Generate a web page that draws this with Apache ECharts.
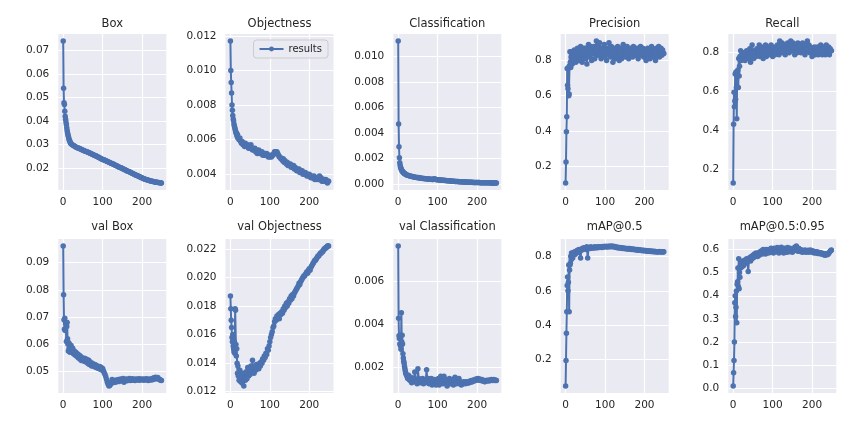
<!DOCTYPE html>
<html><head><meta charset="utf-8">
<script src="https://cdn.jsdelivr.net/npm/echarts@6/dist/echarts.min.js"></script>
<style>html,body{margin:0;padding:0;background:#fff}#c{width:856px;height:424px}</style>
</head><body><div id="c"></div>
<script>
// ---- data ----
const epochs = [0,1,2,3,4,5,6,7,8,9,10,11,12,13,14,15,16,17,18,19,
20,22,24,26,28,30,32,34,36,38,40,42,44,46,48,50,52,54,56,58,
60,62,64,66,68,70,72,74,76,78,80,82,84,86,88,90,92,94,96,98,
100,102,104,106,108,110,112,114,116,118,120,122,124,126,128,130,132,134,136,138,
140,142,144,146,148,150,152,154,156,158,160,162,164,166,168,170,172,174,176,178,
180,182,184,186,188,190,192,194,196,198,200,202,204,206,208,210,212,214,216,218,
220,222,224,226,228,230,232,234,236,238,240,242,244,246,248,249];

const titles = ['Box','Objectness','Classification','Precision','Recall',
  'val Box','val Objectness','val Classification','mAP@0.5','mAP@0.5:0.95'];

const boxLoss = [0.0740,0.0540,0.0478,0.0470,0.0442,0.0420,0.0408,0.0396,0.0385,0.0372,0.0360,0.0350,0.0342,0.0335,0.0328,0.0322,0.0317,0.0313,0.0309,0.0306,
0.0303,0.0300,0.0298,0.0296,0.0294, 0.0292,0.0290,0.0288,0.0287,0.0285,
0.0284,0.0282,0.0281,0.0279,0.0278, 0.0276,0.0275,0.0273,0.0272,0.0271,
0.0269,0.0268,0.0266,0.0265,0.0263, 0.0262,0.0260,0.0259,0.0257,0.0256,
0.0254,0.0252,0.0251,0.0249,0.0247, 0.0246,0.0244,0.0242,0.0240,0.0239,
0.0237,0.0236,0.0234,0.0233,0.0231, 0.0230,0.0228,0.0227,0.0225,0.0224,
0.0222,0.0220,0.0219,0.0217,0.0216, 0.0214,0.0212,0.0211,0.0209,0.0208,
0.0206,0.0204,0.0203,0.0201,0.0200, 0.0198,0.0196,0.0195,0.0193,0.0192,
0.0190,0.0188,0.0187,0.0185,0.0184, 0.0182,0.0180,0.0179,0.0177,0.0176,
0.0174,0.0172,0.0171,0.0169,0.0168, 0.0166,0.0164,0.0163,0.0161,0.0160,
0.0158,0.0157,0.0155,0.0154,0.0153, 0.0151,0.0150,0.0149,0.0148,0.0147,
0.0146,0.0145,0.0144,0.0144,0.0143, 0.0142,0.0141,0.0141,0.0140,0.0140,
0.0139,0.0139,0.0138,0.0138,0.0137, 0.0137];

const objLoss = [0.0117,0.0100,0.0093,0.0087,0.0080,0.0077,0.0074,0.0072,0.0071,0.0069,0.0068,0.0067,0.0066,0.0065,0.0064,0.0064,0.0063,0.0062,0.0063,0.0061,
0.0061,0.0060,0.0061,0.0059,0.0058, 0.0059,0.0057,0.0058,0.0056,0.0058,
0.0057,0.0056,0.0057,0.0055,0.0056, 0.0055,0.0057,0.0055,0.0054,0.0055,
0.0054,0.0055,0.0053,0.0054,0.0052, 0.0053,0.0054,0.0052,0.0053,0.0052,
0.0053,0.0051,0.0052,0.0051,0.0052, 0.0051,0.0052,0.0051,0.0050,0.0051,
0.0050,0.0051,0.0050,0.0051,0.0051, 0.0052,0.0053,0.0053,0.0052,0.0053,
0.0052,0.0051,0.0050,0.0050,0.0049, 0.0049,0.0048,0.0049,0.0047,0.0048,
0.0047,0.0046,0.0047,0.0045,0.0046, 0.0045,0.0046,0.0044,0.0045,0.0044,
0.0045,0.0043,0.0044,0.0043,0.0042, 0.0043,0.0042,0.0043,0.0041,0.0042,
0.0041,0.0042,0.0040,0.0041,0.0040, 0.0041,0.0040,0.0039,0.0040,0.0039,
0.0040,0.0039,0.0038,0.0039,0.0038, 0.0038,0.0039,0.0037,0.0038,0.0038,
0.0037,0.0038,0.0037,0.0039,0.0037, 0.0038,0.0036,0.0037,0.0036,0.0037,
0.0036,0.0037,0.0036,0.0035,0.0036, 0.0036];

const clsLoss = [0.01120,0.00470,0.00290,0.00205,0.00165,0.00145,0.00130,0.00120,0.00112,0.00105,0.00100,0.00096,0.00092,0.00088,0.00085,0.00082,0.00080,0.00078,0.00076,0.00074,
0.00072,0.00070,0.00068,0.00066,0.00064, 0.00062,0.00060,0.00058,0.00057,0.00055,
0.00054,0.00052,0.00051,0.00050,0.00049, 0.00048,0.00050,0.00046,0.00045,0.00044,
0.00043,0.00042,0.00042,0.00041,0.00040, 0.00039,0.00039,0.00038,0.00037,0.00037,
0.00036,0.00036,0.00035,0.00034,0.00034, 0.00038,0.00040,0.00036,0.00033,0.00032,
0.00031,0.00031,0.00030,0.00030,0.00029, 0.00028,0.00028,0.00027,0.00027,0.00026,
0.00026,0.00025,0.00024,0.00024,0.00023, 0.00023,0.00022,0.00022,0.00021,0.00021,
0.00020,0.00020,0.00019,0.00019,0.00018, 0.00018,0.00018,0.00017,0.00017,0.00016,
0.00016,0.00016,0.00015,0.00015,0.00015, 0.00014,0.00014,0.00014,0.00013,0.00013,
0.00013,0.00012,0.00012,0.00012,0.00012, 0.00011,0.00011,0.00011,0.00011,0.00010,
0.00010,0.00010,0.00010,0.00010,0.00009, 0.00009,0.00009,0.00009,0.00009,0.00009,
0.00008,0.00008,0.00008,0.00008,0.00008, 0.00008,0.00008,0.00007,0.00007,0.00007,
0.00007,0.00007,0.00007,0.00007,0.00007, 0.00007];

const precision = [0.105,0.224,0.395,0.480,0.755,0.660,0.640,0.760,0.600,0.610,0.770,0.850,0.790,0.760,0.820,0.800,0.850,0.780,0.810,0.840,
0.800,0.860,0.830,0.790,0.850, 0.870,0.820,0.800,0.860,0.880,
0.830,0.790,0.850,0.870,0.810, 0.870,0.840,0.780,0.860,0.890,
0.820,0.850,0.880,0.800,0.860, 0.840,0.880,0.810,0.870,0.910,
0.850,0.830,0.880,0.900,0.840, 0.810,0.870,0.820,0.860,0.890,
0.830,0.850,0.800,0.870,0.840, 0.900,0.860,0.820,0.880,0.850,
0.790,0.840,0.870,0.810,0.860, 0.830,0.880,0.850,0.800,0.870,
0.840,0.810,0.860,0.890,0.830, 0.870,0.820,0.850,0.880,0.840,
0.810,0.860,0.830,0.870,0.850, 0.820,0.880,0.840,0.860,0.830,
0.870,0.850,0.810,0.860,0.840, 0.880,0.830,0.850,0.870,0.820,
0.860,0.840,0.800,0.850,0.870, 0.830,0.860,0.810,0.840,0.880,
0.850,0.820,0.860,0.840,0.800, 0.870,0.830,0.850,0.880,0.820,
0.850,0.870,0.830,0.860,0.840, 0.840];

const recall = [0.127,0.430,0.596,0.520,0.550,0.690,0.560,0.700,0.620,0.459,0.680,0.700,0.710,0.620,0.770,0.680,0.730,0.780,0.760,0.810,
0.760,0.790,0.770,0.800,0.780, 0.760,0.790,0.810,0.770,0.800,
0.780,0.820,0.750,0.800,0.840, 0.790,0.770,0.810,0.800,0.780,
0.820,0.790,0.800,0.840,0.780, 0.810,0.830,0.790,0.770,0.820,
0.800,0.840,0.780,0.810,0.830, 0.790,0.820,0.800,0.840,0.810,
0.780,0.830,0.810,0.790,0.820, 0.800,0.840,0.820,0.790,0.860,
0.830,0.810,0.850,0.800,0.820, 0.840,0.790,0.830,0.810,0.850,
0.820,0.800,0.840,0.860,0.810, 0.830,0.850,0.810,0.790,0.840,
0.820,0.800,0.850,0.810,0.830, 0.840,0.800,0.820,0.850,0.810,
0.830,0.790,0.840,0.810,0.860, 0.820,0.840,0.800,0.830,0.810,
0.780,0.820,0.800,0.830,0.790, 0.810,0.800,0.830,0.790,0.820,
0.800,0.840,0.810,0.790,0.830, 0.820,0.800,0.790,0.840,0.810,
0.800,0.830,0.790,0.820,0.810, 0.810];

const valBox = [0.0961,0.0782,0.0690,0.0655,0.0695,0.0650,0.0680,0.0675,0.0610,0.0665,0.0680,0.0620,0.0600,0.0575,0.0605,0.0585,0.0600,0.0570,0.0590,0.0575,
0.0595,0.0570,0.0585,0.0565,0.0575, 0.0560,0.0570,0.0555,0.0565,0.0550,
0.0560,0.0545,0.0555,0.0540,0.0550, 0.0545,0.0538,0.0548,0.0535,0.0545,
0.0540,0.0530,0.0542,0.0525,0.0535, 0.0528,0.0520,0.0530,0.0522,0.0518,
0.0525,0.0515,0.0522,0.0512,0.0518, 0.0510,0.0518,0.0508,0.0515,0.0505,
0.0510,0.0502,0.0495,0.0488,0.0480, 0.0470,0.0460,0.0452,0.0446,0.0448,
0.0452,0.0460,0.0470,0.0458,0.0462, 0.0465,0.0460,0.0468,0.0462,0.0466,
0.0470,0.0463,0.0468,0.0472,0.0465, 0.0468,0.0474,0.0460,0.0470,0.0466,
0.0472,0.0465,0.0470,0.0468,0.0474, 0.0466,0.0471,0.0468,0.0473,0.0467,
0.0470,0.0466,0.0472,0.0469,0.0471, 0.0468,0.0473,0.0467,0.0470,0.0472,
0.0469,0.0471,0.0467,0.0472,0.0470, 0.0468,0.0473,0.0470,0.0466,0.0471,
0.0469,0.0472,0.0468,0.0474,0.0470, 0.0476,0.0472,0.0478,0.0473,0.0475,
0.0477,0.0472,0.0470,0.0468,0.0467, 0.0466];

const valObj = [0.0187,0.0178,0.0170,0.0165,0.0158,0.0155,0.0160,0.0152,0.0150,0.0148,0.0155,0.0147,0.0178,0.0177,0.0153,0.0145,0.0150,0.0140,0.0133,0.0138,
0.0131,0.0128,0.0135,0.0127,0.0130, 0.0126,0.0133,0.0124,0.0130,0.0128,
0.0134,0.0129,0.0137,0.0131,0.0135, 0.0132,0.0138,0.0134,0.0142,0.0136,
0.0133,0.0137,0.0135,0.0139,0.0136, 0.0138,0.0136,0.0140,0.0138,0.0141,
0.0140,0.0143,0.0142,0.0145,0.0144, 0.0147,0.0146,0.0150,0.0149,0.0152,
0.0155,0.0158,0.0160,0.0162,0.0165, 0.0166,0.0169,0.0171,0.0170,0.0173,
0.0172,0.0174,0.0171,0.0175,0.0174, 0.0176,0.0175,0.0178,0.0177,0.0180,
0.0179,0.0182,0.0180,0.0183,0.0182, 0.0185,0.0184,0.0187,0.0185,0.0188,
0.0187,0.0189,0.0190,0.0191,0.0192, 0.0193,0.0194,0.0196,0.0195,0.0197,
0.0198,0.0199,0.0200,0.0201,0.0201, 0.0202,0.0203,0.0204,0.0203,0.0205,
0.0206,0.0205,0.0207,0.0208,0.0209, 0.0210,0.0211,0.0212,0.0212,0.0213,
0.0214,0.0215,0.0215,0.0216,0.0217, 0.0217,0.0218,0.0218,0.0219,0.0220,
0.0220,0.0221,0.0221,0.0222,0.0222, 0.0222];

const valCls = [0.00764,0.00429,0.00348,0.00335,0.00310,0.00350,0.00300,0.00285,0.00455,0.00320,0.00350,0.00310,0.00265,0.00245,0.00230,0.00220,0.00205,0.00195,0.00185,0.00175,
0.00170,0.00160,0.00150,0.00165,0.00145, 0.00140,0.00155,0.00130,0.00145,0.00135,
0.00150,0.00180,0.00135,0.00145,0.00125, 0.00195,0.00150,0.00140,0.00130,0.00145,
0.00135,0.00150,0.00125,0.00140,0.00130, 0.00145,0.00190,0.00135,0.00150,0.00125,
0.00140,0.00130,0.00150,0.00120,0.00135, 0.00125,0.00145,0.00130,0.00120,0.00140,
0.00130,0.00150,0.00120,0.00140,0.00160, 0.00135,0.00150,0.00125,0.00160,0.00140,
0.00130,0.00145,0.00115,0.00140,0.00130, 0.00150,0.00125,0.00140,0.00130,0.00145,
0.00120,0.00140,0.00155,0.00130,0.00125, 0.00140,0.00130,0.00150,0.00125,0.00135,
0.00120,0.00130,0.00125,0.00135,0.00130, 0.00125,0.00135,0.00130,0.00128,0.00135,
0.00130,0.00138,0.00132,0.00140,0.00135, 0.00142,0.00138,0.00145,0.00140,0.00148,
0.00145,0.00150,0.00142,0.00148,0.00145, 0.00140,0.00145,0.00138,0.00142,0.00136,
0.00135,0.00140,0.00138,0.00142,0.00140, 0.00138,0.00143,0.00140,0.00145,0.00142,
0.00140,0.00145,0.00143,0.00140,0.00142, 0.00140];

const map50 = [0.047,0.195,0.354,0.478,0.630,0.680,0.600,0.650,0.750,0.478,0.720,0.750,0.760,0.800,0.780,0.820,0.800,0.810,0.790,0.820,
0.815,0.825,0.810,0.830,0.820, 0.835,0.825,0.840,0.830,0.790,
0.835,0.845,0.840,0.850,0.845, 0.850,0.840,0.855,0.790,0.845,
0.850,0.845,0.855,0.850,0.848, 0.852,0.848,0.855,0.850,0.853,
0.850,0.855,0.852,0.856,0.853, 0.855,0.852,0.857,0.854,0.856,
0.858,0.855,0.857,0.854,0.858, 0.856,0.859,0.856,0.860,0.857,
0.855,0.858,0.854,0.856,0.852, 0.854,0.850,0.852,0.848,0.851,
0.848,0.850,0.846,0.849,0.845, 0.847,0.844,0.846,0.842,0.845,
0.843,0.845,0.841,0.843,0.840, 0.842,0.839,0.841,0.838,0.840,
0.837,0.839,0.836,0.838,0.835, 0.837,0.834,0.836,0.833,0.835,
0.832,0.834,0.831,0.833,0.830, 0.832,0.829,0.831,0.828,0.830,
0.829,0.827,0.829,0.826,0.828, 0.827,0.825,0.827,0.826,0.828,
0.826,0.825,0.827,0.826,0.825, 0.826];

const map5095 = [0.010,0.067,0.120,0.200,0.370,0.400,0.310,0.350,0.420,0.283,0.450,0.460,0.520,0.440,0.560,0.430,0.500,0.480,0.530,0.520,
0.540,0.525,0.550,0.530,0.545, 0.555,0.540,0.560,0.548,0.505,
0.555,0.565,0.550,0.570,0.560, 0.575,0.565,0.580,0.570,0.585,
0.578,0.570,0.585,0.575,0.590, 0.582,0.595,0.580,0.600,0.588,
0.595,0.580,0.600,0.590,0.598, 0.585,0.600,0.592,0.605,0.590,
0.598,0.585,0.605,0.595,0.600, 0.590,0.608,0.595,0.585,0.603,
0.597,0.610,0.590,0.600,0.585, 0.605,0.595,0.600,0.588,0.608,
0.598,0.590,0.605,0.595,0.600, 0.588,0.603,0.595,0.610,0.598,
0.615,0.600,0.592,0.605,0.595, 0.600,0.590,0.598,0.588,0.595,
0.592,0.598,0.588,0.595,0.590, 0.597,0.588,0.593,0.598,0.590,
0.595,0.587,0.592,0.585,0.590, 0.586,0.590,0.583,0.588,0.584,
0.582,0.586,0.580,0.584,0.578, 0.580,0.575,0.582,0.576,0.580,
0.578,0.583,0.588,0.592,0.596, 0.598];

const xTickLabels = [0, 100, 200];
const yTickLabels = [
  [0.02,0.03,0.04,0.05,0.06,0.07],
  [0.004,0.006,0.008,0.010,0.012],
  [0.000,0.002,0.004,0.006,0.008,0.010],
  [0.2,0.4,0.6,0.8],
  [0.2,0.4,0.6,0.8],
  [0.05,0.06,0.07,0.08,0.09],
  [0.012,0.014,0.016,0.018,0.020,0.022],
  [0.002,0.004,0.006],
  [0.2,0.4,0.6,0.8],
  [0.0,0.1,0.2,0.3,0.4,0.5,0.6]
];
const yDecimals = [2,3,3,1,1,2,3,3,1,1];
const seriesValues = [boxLoss,objLoss,clsLoss,precision,recall,valBox,valObj,valCls,map50,map5095];

// ---- layout / style ----
const colLeft = [58.3, 225.5, 393.3, 560.7, 728.3];
const plotW = 108;
const rowTop = [34, 239];
const rowH = [156, 154];
const lineColor = '#4C72B0';
const textColor = '#262626';
const font = 'DejaVu Sans';

function padded(arr) {
  const lo = Math.min(...arr), hi = Math.max(...arr);
  const p = 0.05 * (hi - lo);
  return [lo - p, hi + p];
}
const xr = padded(epochs);

const grid = [], xAxis = [], yAxis = [], series = [], title = [];
for (let i = 0; i < 10; i++) {
  const row = i < 5 ? 0 : 1, col = i % 5;
  grid.push({left: colLeft[col], top: rowTop[row], width: plotW, height: rowH[row],
    show: true, backgroundColor: '#EAEAF2', borderWidth: 0, containLabel: false});
  title.push({text: titles[i], left: colLeft[col] + plotW / 2, textAlign: 'center',
    top: row === 0 ? 18 : 221.5, padding: 0,
    textStyle: {fontFamily: font, fontSize: 11.5, fontWeight: 'normal', color: textColor}});
  xAxis.push({type: 'value', gridIndex: i, min: xr[0], max: xr[1],
    axisLine: {show: false}, axisTick: {show: false, customValues: xTickLabels},
    axisLabel: {customValues: xTickLabels, fontFamily: font, fontSize: 10.5, color: textColor, margin: 7},
    splitLine: {show: true, lineStyle: {color: '#FFFFFF', width: 1.2}}});
  const yr = padded(seriesValues[i]);
  const dec = yDecimals[i];
  yAxis.push({type: 'value', gridIndex: i, min: yr[0], max: yr[1],
    axisLine: {show: false}, axisTick: {show: false, customValues: yTickLabels[i]},
    axisLabel: {customValues: yTickLabels[i], fontFamily: font, fontSize: 10.5, color: textColor, margin: 9,
      formatter: v => Number(v).toFixed(dec)},
    splitLine: {show: true, lineStyle: {color: '#FFFFFF', width: 1.2}}});
  const vals = seriesValues[i];
  series.push({name: 'results', type: 'line', xAxisIndex: i, yAxisIndex: i,
    data: epochs.map((e, j) => [e, vals[j]]),
    symbol: 'circle', symbolSize: 5.5, showSymbol: true, showAllSymbol: true,
    lineStyle: {color: lineColor, width: 2}, itemStyle: {color: lineColor},
    emphasis: {disabled: true}, animation: false});
}

const chart = echarts.init(document.getElementById('c'), null, {renderer: 'canvas'});
chart.setOption({
  animation: false,
  backgroundColor: '#FFFFFF',
  title: title,
  grid: grid, xAxis: xAxis, yAxis: yAxis, series: series,
  legend: {data: ['results'], right: 528, top: 40, orient: 'horizontal',
    itemWidth: 24, itemHeight: 6, itemGap: 5,
    padding: [4, 6, 4, 5], backgroundColor: 'rgba(234,234,242,0.8)',
    borderColor: '#CCCCCC', borderWidth: 1, borderRadius: 3,
    textStyle: {fontFamily: font, fontSize: 10, color: textColor}}
});
</script></body></html>
